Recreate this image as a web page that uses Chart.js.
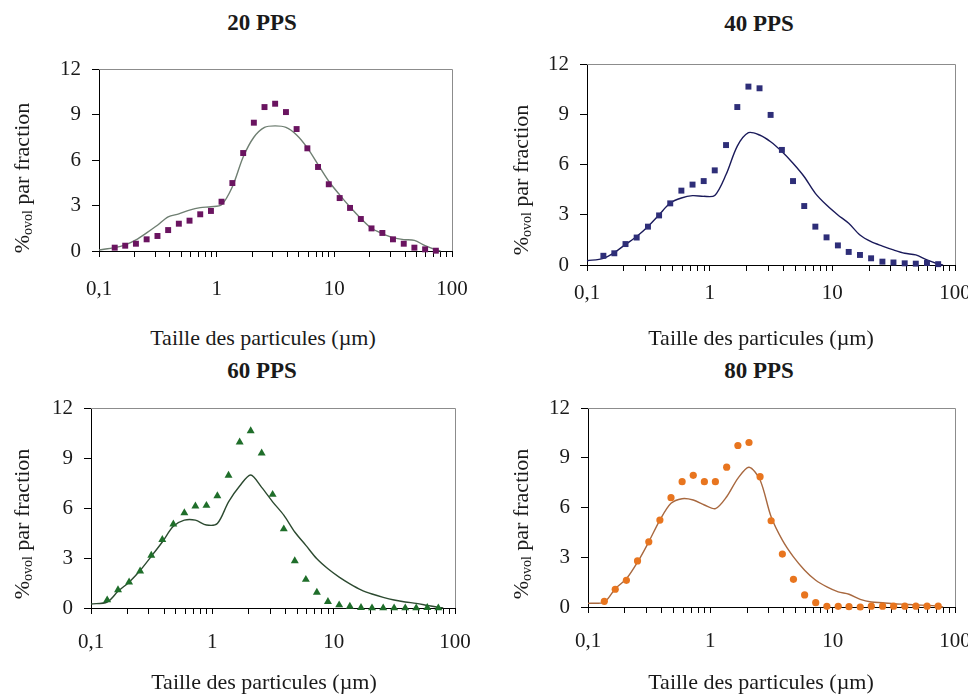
<!DOCTYPE html>
<html lang="fr">
    <head>
        <meta charset="UTF-8" />
        <title>Distribution granulométrique</title>
        <script src="https://cdn.jsdelivr.net/npm/chart.js"></script>
        <style>
            body {
                margin: 0;
                background: #fff;
            }
            .page {
                position: relative;
                width: 968px;
                height: 695px;
                overflow: hidden;
                font-family: "Liberation Serif", "Times New Roman", serif;
                color: #1a1a1a;
            }
            canvas {
                position: absolute;
            }
            .title,
            .xtitle,
            .ytitle {
                position: absolute;
                white-space: nowrap;
                line-height: 1;
                transform: translate(-50%, -50%);
            }
            .title {
                font-size: 23px;
                font-weight: bold;
            }
            .xtitle,
            .ytitle {
                font-size: 22px;
            }
            .ytitle {
                transform: translate(-50%, -50%) rotate(-90deg);
            }
            .ytitle sub {
                font-size: 14px;
                vertical-align: -3px;
            }
        </style>
    </head>
    <body>
        <div class="page">
            <canvas id="c20" width="445" height="260" style="left: 30px; top: 55px"></canvas>
            <canvas id="c40" width="460" height="279" style="left: 518px; top: 50px"></canvas>
            <canvas id="c60" width="456" height="278" style="left: 22px; top: 394px"></canvas>
            <canvas id="c80" width="459" height="277" style="left: 519px; top: 394px"></canvas>

            <div class="title" style="left: 262px; top: 22px">20 PPS</div>
            <div class="title" style="left: 759px; top: 23px">40 PPS</div>
            <div class="title" style="left: 262px; top: 370px">60 PPS</div>
            <div class="title" style="left: 759px; top: 370px">80 PPS</div>

            <div class="xtitle" style="left: 263px; top: 338px">Taille des particules (µm)</div>
            <div class="xtitle" style="left: 761px; top: 338px">Taille des particules (µm)</div>
            <div class="xtitle" style="left: 264px; top: 682px">Taille des particules (µm)</div>
            <div class="xtitle" style="left: 761px; top: 682px">Taille des particules (µm)</div>

            <div class="ytitle" style="left: 23px; top: 178px">%<sub>ovol</sub> par fraction</div>
            <div class="ytitle" style="left: 522px; top: 180px">%<sub>ovol</sub> par fraction</div>
            <div class="ytitle" style="left: 23px; top: 524px">%<sub>ovol</sub> par fraction</div>
            <div class="ytitle" style="left: 522px; top: 524px">%<sub>ovol</sub> par fraction</div>
        </div>

        <script>
            // particle size classes (µm), shared by the four measurements
            const sizes = [
                0.136, 0.167, 0.206, 0.254, 0.314, 0.387, 0.477, 0.588, 0.725,
                0.894, 1.1, 1.36, 1.68, 2.07, 2.55, 3.14, 3.88, 4.78, 5.9, 7.27,
                8.97, 11.1, 13.6, 16.8, 20.7, 25.6, 31.5, 38.9, 47.9, 59.1, 72.9,
            ];
            // the fitted curves also run from 0.1 up to 80 µm
            const fitSizes = [0.1, ...sizes, 80];

            const pps20Points = [
                0.22, 0.35, 0.48, 0.77, 0.99, 1.38, 1.8, 2.0, 2.42, 2.64, 3.25,
                4.48, 6.46, 8.46, 9.49, 9.71, 9.16, 8.04, 6.77, 5.54, 4.4, 3.49,
                2.84, 2.11, 1.49, 1.19, 0.77, 0.48, 0.22, 0.11, 0.02,
            ];
            const pps20Fit = [
                0.07, 0.22, 0.4, 0.73, 1.2, 1.7, 2.25, 2.45, 2.7, 2.86, 2.92,
                3.05, 4.24, 6.2, 7.5, 8.15, 8.25, 8.15, 7.65, 6.8, 5.7, 4.6, 3.7,
                2.9, 2.15, 1.5, 1.15, 0.88, 0.75, 0.7, 0.35, 0.08, 0,
            ];

            const pps40Points = [
                0.55, 0.7, 1.25, 1.64, 2.29, 2.96, 3.68, 4.44, 4.8, 5.01, 5.65,
                7.16, 9.43, 10.65, 10.55, 8.96, 6.87, 5.01, 3.52, 2.29, 1.65,
                1.17, 0.78, 0.6, 0.4, 0.2, 0.15, 0.1, 0.08, 0.12, 0.05,
            ];
            const pps40Fit = [
                0.25, 0.4, 0.74, 1.23, 1.7, 2.3, 3.0, 3.7, 4.0, 4.14, 4.1, 4.15,
                5.4, 7.1, 7.9, 7.76, 7.36, 6.77, 6.07, 5.27, 4.28, 3.58, 2.99,
                2.49, 1.79, 1.39, 1.13, 0.9, 0.7, 0.6, 0.3, 0.06, 0,
            ];

            const pps60Points = [
                0.48, 1.09, 1.55, 2.21, 3.16, 4.1, 5.03, 5.71, 6.11, 6.15, 6.73,
                7.96, 9.95, 10.63, 9.29, 6.81, 4.74, 2.83, 1.71, 0.94, 0.38,
                0.18, 0.1, 0.02, 0, 0, 0, 0, 0, 0.02, 0,
            ];
            const pps60Fit = [
                0.24, 0.36, 1.0, 1.55, 2.25, 3.1, 3.96, 4.9, 5.27, 5.27, 4.98,
                5.07, 6.37, 7.32, 7.98, 7.24, 6.37, 5.57, 4.56, 3.76, 2.95, 2.35,
                1.85, 1.45, 1.09, 0.84, 0.64, 0.48, 0.36, 0.28, 0.16, 0.04, 0,
            ];

            const pps80Points = [
                0.34, 1.07, 1.61, 2.78, 3.93, 5.24, 6.59, 7.56, 7.94, 7.56, 7.56,
                8.43, 9.74, 9.92, 7.86, 5.2, 3.19, 1.67, 0.73, 0.26, 0.04, 0.04,
                0.02, 0, 0.05, 0.05, 0.05, 0.05, 0.05, 0.05, 0.05,
            ];
            const pps80Fit = [
                0.22, 0.3, 1.1, 1.7, 2.7, 3.93, 5.24, 6.25, 6.53, 6.45, 6.15,
                5.93, 6.65, 7.76, 8.43, 7.66, 5.44, 4.03, 3.02, 2.22, 1.61, 1.21,
                0.91, 0.77, 0.46, 0.3, 0.26, 0.2, 0.16, 0.12, 0.1, 0.05, 0,
            ];

            // log axis tick marks and the few that carry a label
            const xTicks = [
                0.1, 0.2, 0.3, 0.4, 0.5, 0.6, 0.7, 0.8, 0.9, 1, 2, 3, 4, 5, 6, 7,
                8, 9, 10, 20, 30, 40, 50, 60, 70, 80, 90, 100,
            ];
            const xTickLabels = { 0.1: "0,1", 1: "1", 10: "10", 100: "100" };
            const yTicks = [0, 3, 6, 9, 12];

            const tickFont = {
                family: "'Liberation Serif', 'Times New Roman', serif",
                size: 21,
            };

            // gray frame on the top and right of the plot area
            const framePlugin = {
                id: "frame",
                beforeDatasetsDraw(chart) {
                    const a = chart.chartArea;
                    const ctx = chart.ctx;
                    ctx.save();
                    ctx.strokeStyle = "#8c8c8c";
                    ctx.lineWidth = 1;
                    ctx.beginPath();
                    ctx.moveTo(a.left, a.top + 0.5);
                    ctx.lineTo(a.right + 0.5, a.top + 0.5);
                    ctx.lineTo(a.right + 0.5, a.bottom);
                    ctx.stroke();
                    ctx.restore();
                },
            };

            // keep the plot box where the layout padding puts it
            function noLabelPadding(scale) {
                scale.paddingTop = 0;
                scale.paddingBottom = 0;
                scale.paddingLeft = 0;
                scale.paddingRight = 0;
            }

            function drawPanel(id, points, fit, opts) {
                const ctx = document.getElementById(id).getContext("2d");
                return new Chart(ctx, {
                    type: "scatter",
                    data: {
                        datasets: [
                            {
                                label: "mesure",
                                data: sizes.map((x, i) => ({ x: x, y: points[i] })),
                                pointStyle: opts.pointStyle,
                                pointRadius: opts.pointRadius,
                                backgroundColor: opts.pointColor,
                                borderColor: opts.pointColor,
                                borderWidth: 0,
                                showLine: false,
                                clip: false,
                                order: 1,
                            },
                            {
                                label: "modèle",
                                type: "line",
                                data: fitSizes.map((x, i) => ({ x: x, y: fit[i] })),
                                borderColor: opts.lineColor,
                                borderWidth: 1.4,
                                pointRadius: 0,
                                tension: 0.3,
                                fill: false,
                                clip: false,
                                order: 2,
                            },
                        ],
                    },
                    options: {
                        responsive: false,
                        animation: false,
                        layout: {
                            padding: { left: 0, top: 14, right: 23, bottom: 0 },
                        },
                        plugins: {
                            legend: { display: false },
                            tooltip: { enabled: false },
                        },
                        scales: {
                            x: {
                                type: "logarithmic",
                                min: 0.1,
                                max: 100,
                                afterBuildTicks: (scale) => {
                                    scale.ticks = xTicks.map((v) => ({ value: v }));
                                },
                                afterFit: (scale) => {
                                    scale.height = 64;
                                    noLabelPadding(scale);
                                },
                                grid: {
                                    drawOnChartArea: false,
                                    tickLength: 6,
                                    color: "#000",
                                },
                                border: { color: "#000", width: 1 },
                                ticks: {
                                    autoSkip: false,
                                    maxRotation: 0,
                                    padding: opts.xPad,
                                    color: "#1a1a1a",
                                    font: tickFont,
                                    callback: (value) => xTickLabels[value] || "",
                                },
                            },
                            y: {
                                min: 0,
                                max: 12,
                                afterBuildTicks: (scale) => {
                                    scale.ticks = yTicks.map((v) => ({ value: v }));
                                },
                                afterFit: (scale) => {
                                    scale.width = 69;
                                    noLabelPadding(scale);
                                },
                                grid: {
                                    drawOnChartArea: false,
                                    tickLength: 7,
                                    color: "#000",
                                },
                                border: { color: "#000", width: 1 },
                                ticks: {
                                    padding: 11,
                                    color: "#1a1a1a",
                                    font: tickFont,
                                },
                            },
                        },
                    },
                    plugins: [framePlugin],
                });
            }

            drawPanel("c20", pps20Points, pps20Fit, {
                pointStyle: "rect",
                pointRadius: 4.2,
                pointColor: "#6a1460",
                lineColor: "#6f7f72",
                xPad: 20,
            });
            drawPanel("c40", pps40Points, pps40Fit, {
                pointStyle: "rect",
                pointRadius: 4.2,
                pointColor: "#2e2e78",
                lineColor: "#1a1a5a",
                xPad: 10,
            });
            drawPanel("c60", pps60Points, pps60Fit, {
                pointStyle: "triangle",
                pointRadius: 4.6,
                pointColor: "#1f6e2a",
                lineColor: "#2c4a30",
                xPad: 16,
            });
            drawPanel("c80", pps80Points, pps80Fit, {
                pointStyle: "circle",
                pointRadius: 3.6,
                pointColor: "#e8751f",
                lineColor: "#a8683f",
                xPad: 16,
            });
        </script>
    </body>
</html>
